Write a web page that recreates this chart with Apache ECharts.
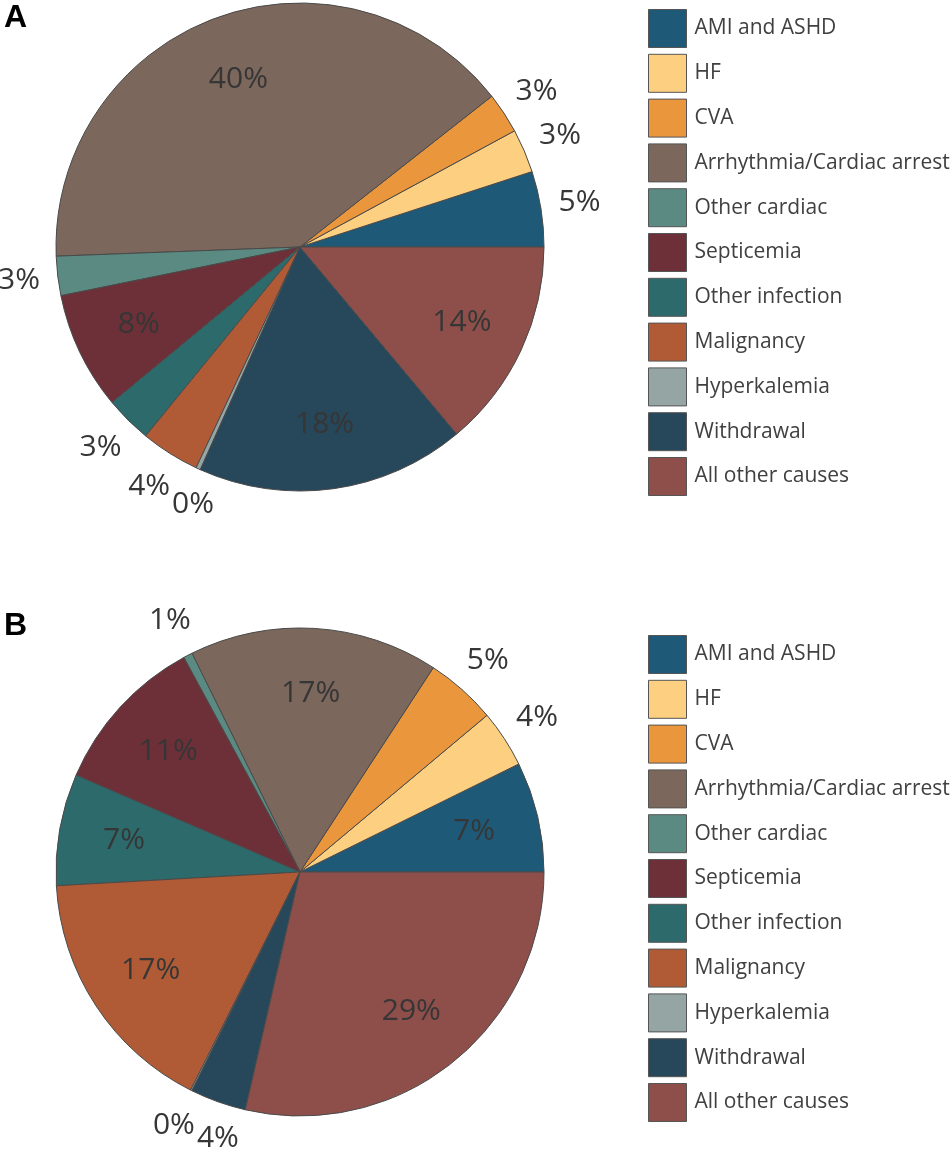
<!DOCTYPE html>
<html><head><meta charset="utf-8">
<script src="https://cdn.jsdelivr.net/npm/echarts@6/dist/echarts.min.js"></script>
<style>html,body{margin:0;padding:0;background:#fff}#c{width:950px;height:1151px}</style>
</head><body><div id="c"></div>
<script>
const categories = ['AMI and ASHD','HF','CVA','Arrhythmia/Cardiac arrest','Other cardiac','Septicemia','Other infection','Malignancy','Hyperkalemia','Withdrawal','All other causes'];
const colors = ['#1e5a78','#fdcf80','#e9963c','#7b675b','#5a8a82','#6d2f38','#2d6a6c','#b05b35','#95a5a4','#27475a','#8e4f4b'];
const valuesA = [5.0, 2.9, 2.7, 40.0, 2.6, 7.8, 3.1, 3.9, 0.3, 17.8, 13.9];
const valuesB = [7.3, 3.8, 4.7, 16.5, 0.6, 10.6, 7.4, 16.7, 0.1, 3.7, 28.6];
const panelLabels = ['A','B'];

const R = 244;
const INSIDE_MIN = 6;
const pct = v => Math.round(v) + '%';
const labelFont = {fontFamily:'Open Sans', fontSize:30, color:'#363636'};

// simple greedy resolver: pushes an outside label sideways if it collides with an earlier one
function makeResolver(values){
  let placed = [], last = -1;
  return function(p){
    if (p.dataIndex <= last) placed = [];
    last = p.dataIndex;
    if (values[p.dataIndex] >= INSIDE_MIN) return {};
    const r = p.labelRect;
    let dx = 0;
    placed.forEach(q => {
      const ox = Math.min(r.x + dx + r.width, q.x + q.width) - Math.max(r.x + dx, q.x);
      const oy = Math.min(r.y + r.height, q.y + q.height) - Math.max(r.y, q.y);
      if (ox > 0 && oy > 4) dx += ox + 2;
    });
    placed.push({x:r.x + dx, y:r.y, width:r.width, height:r.height});
    return {dx: dx};
  };
}

function seriesFor(values, center){
  const common = {type:'pie', center: center, startAngle:0, clockwise:false, silent:true,
                  emphasis:{disabled:true}, labelLine:{show:false}, avoidLabelOverlap:false};
  return [
    Object.assign({}, common, {
      radius: R,
      label:{show:false},
      itemStyle:{borderColor:'#4a4a4a', borderWidth:1},
      data: categories.map((n,i)=>({name:n, value:values[i], itemStyle:{color:colors[i]}}))
    }),
    Object.assign({}, common, {
      radius:[R*0.44, R],
      itemStyle:{color:'rgba(0,0,0,0)', borderWidth:0},
      label:Object.assign({position:'inside', formatter:p=>pct(p.value)}, labelFont),
      data: categories.map((n,i)=>({name:n, value:values[i], label:{show: values[i] >= INSIDE_MIN}}))
    }),
    Object.assign({}, common, {
      radius:[R+12, R+60],
      itemStyle:{color:'rgba(0,0,0,0)', borderWidth:0},
      label:Object.assign({position:'inside', formatter:p=>pct(p.value)}, labelFont),
      labelLayout: makeResolver(values),
      data: categories.map((n,i)=>({name:n, value:values[i], label:{show: values[i] < INSIDE_MIN}}))
    })
  ];
}

function legendAt(top){
  return {data:categories, orient:'vertical', left:648, top:top, padding:0,
    itemWidth:38, itemHeight:38, itemGap:5.8, icon:'rect', selectedMode:false,
    itemStyle:{borderColor:'#555', borderWidth:1},
    textStyle:{fontFamily:'Open Sans', fontSize:21, color:'#404040', padding:[0,0,0,3]}};
}

const chart = echarts.init(document.getElementById('c'), null, {renderer:'canvas'});
chart.setOption({
  animation:false,
  backgroundColor:'#fff',
  title:[
    {text:panelLabels[0], left:4, top:2, padding:0, textStyle:{fontFamily:'Liberation Sans', fontSize:32, fontWeight:'bold', color:'#000'}},
    {text:panelLabels[1], left:4, top:610, padding:0, textStyle:{fontFamily:'Liberation Sans', fontSize:32, fontWeight:'bold', color:'#000'}}
  ],
  legend:[legendAt(9), legendAt(635)],
  series: seriesFor(valuesA, [300,247]).concat(seriesFor(valuesB, [300,872]))
});
</script></body></html>
